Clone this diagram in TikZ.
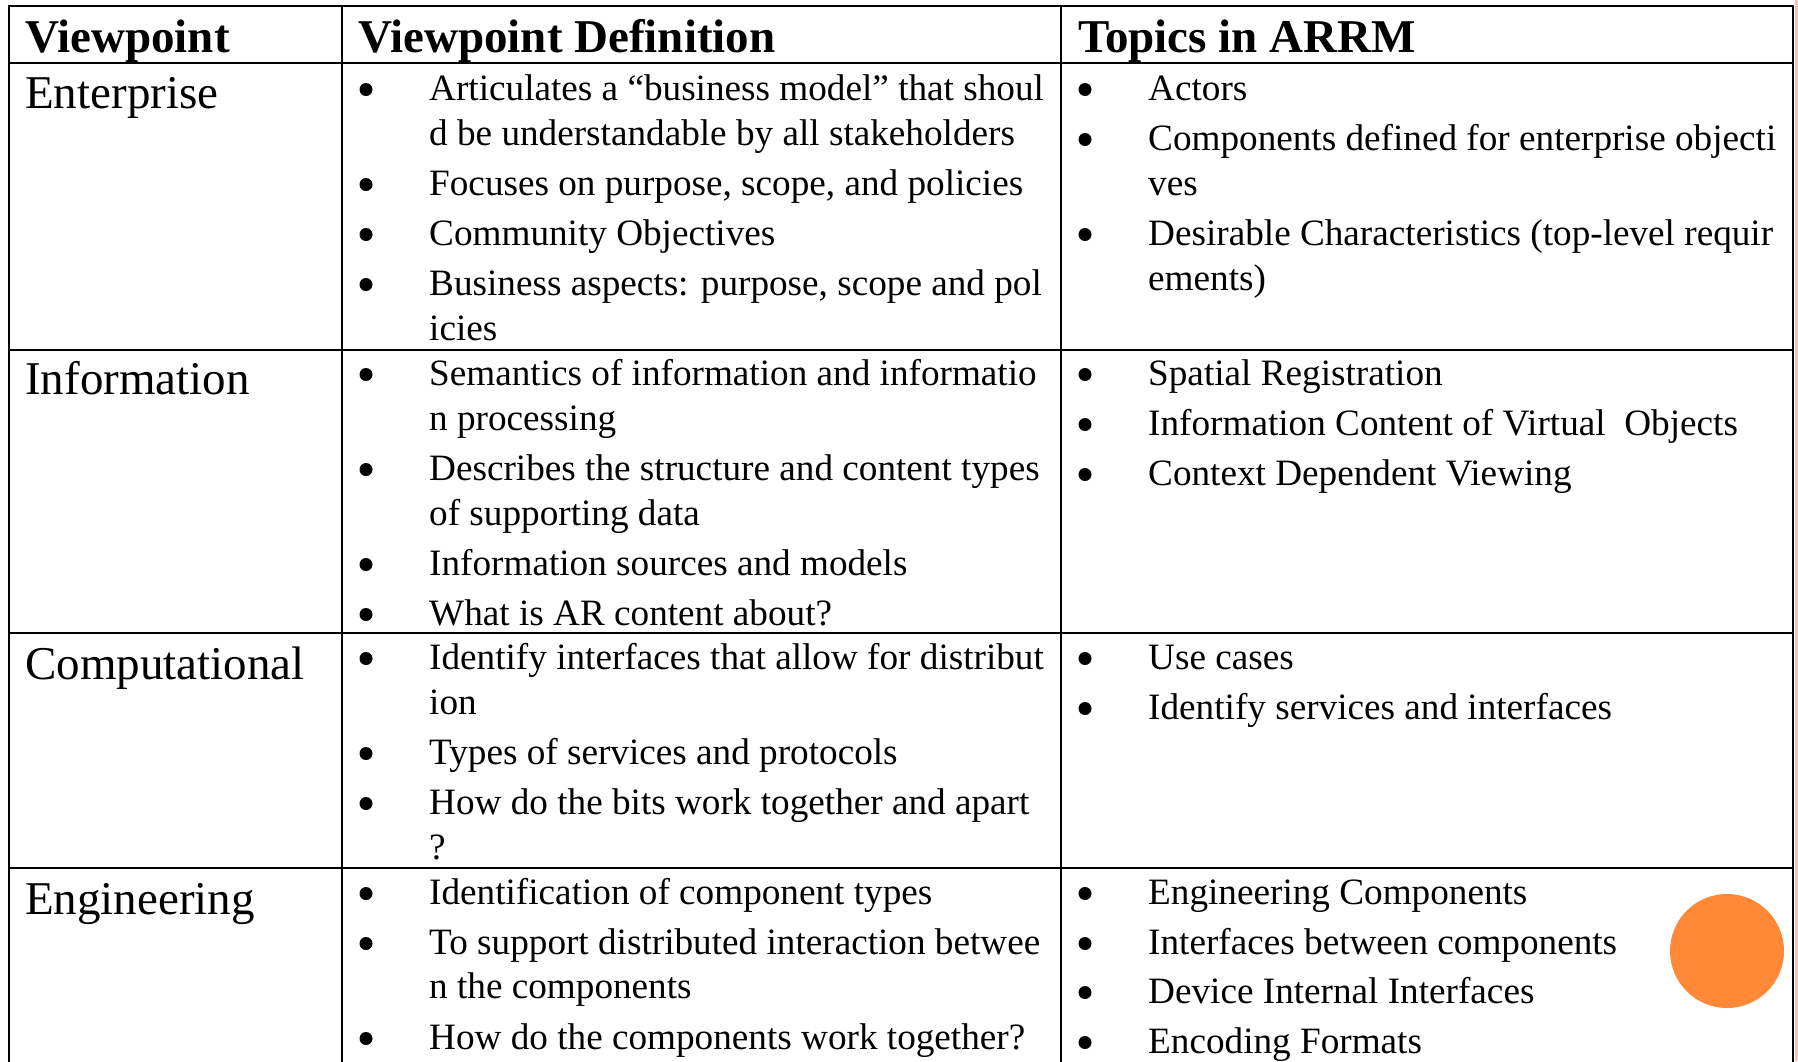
\documentclass[tikz,border=0pt]{standalone}
\usepackage{fontspec}
\setmainfont{Liberation Serif}
\definecolor{accent}{RGB}{255,137,55}
\definecolor{edgetint}{RGB}{251,196,180}
\tikzset{
  rule/.style={line width=2.6pt, black},
  body/.style={anchor=base west, inner sep=0pt, font=\fontsize{37.2}{44}\selectfont},
  dot/.style={circle, fill=black, inner sep=0pt, minimum size=13pt, yshift=10.5pt},
  label/.style={anchor=base west, inner sep=0pt, font=\fontsize{47}{56}\selectfont},
  head/.style={anchor=base west, inner sep=0pt, font=\fontsize{47}{56}\selectfont\bfseries},
}
\begin{document}
\begin{tikzpicture}[x=1pt, y=-1pt]
\useasboundingbox (0,0) rectangle (1798,1061);
\fill[white] (0,0) rectangle (1798,1061);
\fill[edgetint] (1795,0) rectangle (1798,1061);

% grid of the table
\draw[rule] (9,1075) -- (9,6) -- (1793,6) -- (1793,1075);
\draw[rule] (342,6) -- (342,1075);
\draw[rule] (1061,6) -- (1061,1075);
\foreach \yy in {63,350,633,868} \draw[rule] (9,\yy) -- (1793,\yy);

% header row
\node[head] (h1) at (25,52) {Viewpoint};
\node[head] (h2) at (358,52) {Viewpoint Definition};
\node[head] (h3) at (1078,52) {Topics in ARRM};

% viewpoint names
\node[label] (l1) at (25,108) {Enterprise};
\node[label] (l2) at (25,394) {Information};
\node[label] (l3) at (25,679) {Computational};
\node[label] (l4) at (25,914) {Engineering};

% Enterprise: definition
\node[dot] (e1b) at (366,100) {};
\node[body] (e1) at (429,100) {Articulates a “business model” that shoul};
\node[body] (e1c) at (429,145) {d be understandable by all stakeholders};
\node[dot] (e2b) at (366,195) {};
\node[body] (e2) at (429,195) {Focuses on purpose, scope, and policies};
\node[dot] (e3b) at (366,245) {};
\node[body] (e3) at (429,245) {Community Objectives};
\node[dot] (e4b) at (366,295) {};
\node[body] (e4) at (429,295) {Business aspects: purpose, scope and pol};
\node[body] (e4c) at (429,340) {icies};

% Enterprise: topics
\node[dot] (t1b) at (1085,100) {};
\node[body] (t1) at (1148,100) {Actors};
\node[dot] (t2b) at (1085,150) {};
\node[body] (t2) at (1148,150) {Components defined for enterprise objecti};
\node[body] (t2c) at (1148,195) {ves};
\node[dot] (t3b) at (1085,245) {};
\node[body] (t3) at (1148,245) {Desirable Characteristics (top-level requir};
\node[body] (t3c) at (1148,290) {ements)};

% Information: definition
\node[dot] (i1b) at (366,385) {};
\node[body] (i1) at (429,385) {Semantics of information and informatio};
\node[body] (i1c) at (429,430) {n processing};
\node[dot] (i2b) at (366,480) {};
\node[body] (i2) at (429,480) {Describes the structure and content types};
\node[body] (i2c) at (429,525) {of supporting data};
\node[dot] (i3b) at (366,575) {};
\node[body] (i3) at (429,575) {Information sources and models};
\node[dot] (i4b) at (366,625) {};
\node[body] (i4) at (429,625) {What is AR content about?};

% Information: topics
\node[dot] (u1b) at (1085,385) {};
\node[body] (u1) at (1148,385) {Spatial Registration};
\node[dot] (u2b) at (1085,435) {};
\node[body] (u2) at (1148,435) {Information Content of Virtual\ \ Objects};
\node[dot] (u3b) at (1085,485) {};
\node[body] (u3) at (1148,485) {Context Dependent Viewing};

% Computational: definition
\node[dot] (c1b) at (366,669) {};
\node[body] (c1) at (429,669) {Identify interfaces that allow for distribut};
\node[body] (c1c) at (429,714) {ion};
\node[dot] (c2b) at (366,764) {};
\node[body] (c2) at (429,764) {Types of services and protocols};
\node[dot] (c3b) at (366,814) {};
\node[body] (c3) at (429,814) {How do the bits work together and apart};
\node[body] (c3c) at (429,859) {?};

% Computational: topics
\node[dot] (v1b) at (1085,669) {};
\node[body] (v1) at (1148,669) {Use cases};
\node[dot] (v2b) at (1085,719) {};
\node[body] (v2) at (1148,719) {Identify services and interfaces};

% Engineering: definition
\node[dot] (g1b) at (366,904) {};
\node[body] (g1) at (429,904) {Identification of component types};
\node[dot] (g2b) at (366,954) {};
\node[body] (g2) at (429,954) {To support distributed interaction betwee};
\node[body] (g2c) at (429,998) {n the components};
\node[dot] (g3b) at (366,1049) {};
\node[body] (g3) at (429,1049) {How do the components work together?};

% Engineering: topics
\node[dot] (w1b) at (1085,904) {};
\node[body] (w1) at (1148,904) {Engineering Components};
\node[dot] (w2b) at (1085,954) {};
\node[body] (w2) at (1148,954) {Interfaces between components};
\node[dot] (w3b) at (1085,1003) {};
\node[body] (w3) at (1148,1003) {Device Internal Interfaces};
\node[dot] (w4b) at (1085,1053) {};
\node[body] (w4) at (1148,1053) {Encoding Formats};

% decorative disc
\fill[accent] (1727,951) circle[radius=57];
\end{tikzpicture}
\end{document}
